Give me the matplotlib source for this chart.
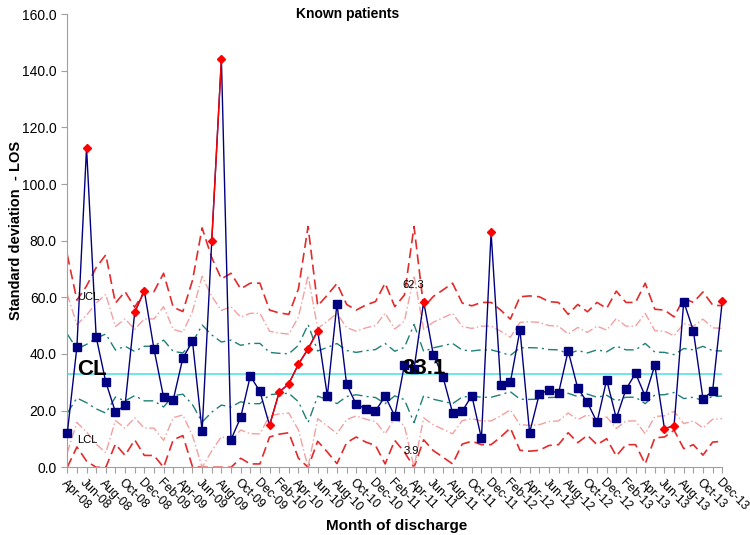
import numpy as np
import pandas as pd
import matplotlib
matplotlib.use("Agg")
import matplotlib.pyplot as plt

plt.rcParams['font.family'] = ['Liberation Sans', 'DejaVu Sans']

# monthly standard deviation of LOS, Apr-08 .. Dec-13
sd_los = [12.0, 42.5, 112.8, 46.0, 30.1, 19.5, 21.9, 54.7, 62.3, 41.8,
          24.7, 23.8, 38.6, 44.5, 12.8, 79.9, 144.1, 9.8, 17.6, 32.2,
          26.8, 14.8, 26.5, 29.5, 36.4, 41.8, 48.2, 25.2, 57.8, 29.3,
          22.2, 20.7, 19.9, 25.1, 18.1, 36.1, 34.7, 58.5, 39.8, 32.0,
          19.3, 19.8, 25.3, 10.2, 82.9, 28.9, 30.0, 48.5, 12.2, 25.8,
          27.3, 26.1, 41.1, 27.9, 22.9, 15.9, 30.9, 17.3, 27.5, 33.2,
          25.1, 36.0, 13.6, 14.7, 58.5, 48.2, 24.2, 26.9, 58.6]

# upper control limit (3 sigma) per month
ucl = [75.0, 59.0, 64.0, 70.5, 75.0, 58.0, 62.0, 56.5, 62.0, 62.0,
       68.5, 56.5, 55.0, 66.0, 84.5, 74.0, 66.5, 68.5, 63.0, 65.0,
       65.0, 55.5, 54.5, 54.0, 63.0, 85.0, 57.0, 60.8, 64.9, 57.5,
       55.5, 57.3, 58.5, 65.0, 56.7, 60.8, 85.0, 56.5, 60.3, 62.6,
       65.0, 58.0, 57.0, 58.2, 58.2, 55.5, 52.3, 60.2, 60.5, 60.2,
       58.5, 58.2, 54.0, 57.5, 54.9, 58.2, 56.1, 62.2, 58.2, 58.2,
       65.0, 55.8, 55.5, 53.1, 59.6, 58.2, 61.9, 57.3, 57.0]

centre_line = 33.1

# months flagged as special cause (red diamonds)
flagged = [2, 7, 8, 15, 16, 21, 22, 23, 24, 25, 26, 37, 44, 62, 63, 68]

months = pd.date_range('2008-04-01', periods=len(sd_los), freq='MS').strftime('%b-%y').tolist()

x = np.arange(len(sd_los))
y = np.array(sd_los)
ucl = np.array(ucl)
sigma = (ucl - centre_line) / 3
lcl = np.clip(centre_line - 3 * sigma, 0, None)
u2 = centre_line + 2 * sigma
l2 = np.clip(centre_line - 2 * sigma, 0, None)
u1 = centre_line + sigma
l1 = centre_line - sigma

fig = plt.figure(figsize=(7.5, 5.35), dpi=100)
ax = fig.add_axes([0.0897, 0.1265, 0.8733, 0.8473])

red_dash = '#E42A2A'
pink = '#F3A0A0'
teal = '#1E8077'

ax.plot(x, ucl, color=red_dash, lw=1.2, dashes=(6, 3))
ax.plot(x, lcl, color=red_dash, lw=1.2, dashes=(6, 3))
ax.plot(x, u2, color=pink, lw=1.0, dashes=(6, 2, 1, 2))
ax.plot(x, l2, color=pink, lw=1.0, dashes=(6, 2, 1, 2))
ax.plot(x, u1, color=teal, lw=1.0, dashes=(7, 3, 1.5, 3))
ax.plot(x, l1, color=teal, lw=1.0, dashes=(7, 3, 1.5, 3))
ax.axhline(centre_line, color='#62E4EE', lw=1.3)

# data line
ax.plot(x, y, color='#000080', lw=1.0, zorder=3, clip_on=False)
flag_set = set(flagged)
for i in range(len(x) - 1):
    if i in flag_set and i + 1 in flag_set:
        ax.plot(x[i:i + 2], y[i:i + 2], color='#FF0000', lw=1.0, zorder=4)
normal = [i for i in x if i not in flag_set]
ax.plot(x[normal], y[normal], 's', color='#000080', ms=5.8, zorder=5, clip_on=False)
ax.plot(x[flagged], y[flagged], 'D', color='#FF0000', ms=4, zorder=5, clip_on=False)

# labels on the chart
ax.text(1.0, 60.2, 'UCL', fontsize=8, va='center', ha='left')
ax.text(1.0, 9.6, 'LCL', fontsize=8, va='center', ha='left')
ax.text(1.0, 34.7, 'CL', fontsize=16, fontweight='bold', va='center', ha='left')
ax.text(34.8, 35.0, '33.1', fontsize=16, fontweight='bold', va='center', ha='left', zorder=6)
ax.text(35.9, 64.3, '62.3', fontsize=8, va='center', ha='center')
ax.text(35.7, 5.8, '3.9', fontsize=8, va='center', ha='center')

ax.set_xlim(0, len(x) - 1)
ax.set_ylim(0, 160)
ax.set_yticks(np.arange(0, 161, 20))
ax.set_yticklabels(['%.1f' % v for v in np.arange(0, 161, 20)], fontsize=10)
ax.set_xticks(x)
ax.set_xticklabels([m if i % 2 == 0 else '' for i, m in enumerate(months)],
                   rotation=-45, ha='left', rotation_mode='anchor', fontsize=8.8)
ax.tick_params(axis='both', direction='out', length=4, color='#A0A0A0')
ax.tick_params(axis='x', pad=3)

for s in ['top', 'right']:
    ax.spines[s].set_visible(False)
for s in ['left', 'bottom']:
    ax.spines[s].set_color('#A0A0A0')

fig.text(0.022, 0.57, 'Standard deviation  - LOS', fontsize=10.5, fontweight='bold',
         rotation=90, ha='center', va='center')
fig.text(0.529, 0.017, 'Month of discharge', fontsize=11, fontweight='bold', ha='center', va='center')
fig.text(0.463, 0.987, 'Known patients', fontsize=10, fontweight='bold', ha='center', va='top')

fig.savefig('out.png', dpi=100)
